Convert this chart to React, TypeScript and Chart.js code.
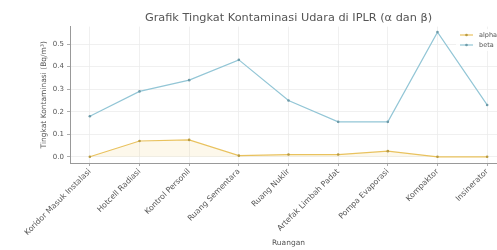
import React, { useEffect, useRef } from "react";
import { Chart, registerables } from "chart.js";

Chart.register(...registerables);

const rooms = [
  "Koridor Masuk Instalasi",
  "Hotcell Radiasi",
  "Kontrol Personil",
  "Ruang Sementara",
  "Ruang Nuklir",
  "Artefak Limbah Padat",
  "Pompa Evaporasi",
  "Kompaktor",
  "Insinerator",
];
const alphaValues = [0.0, 0.07, 0.075, 0.005, 0.01, 0.01, 0.025, 0.0, 0.0];
const betaValues = [0.18, 0.29, 0.34, 0.43, 0.25, 0.155, 0.155, 0.553, 0.23];
const yTicks = [0, 0.1, 0.2, 0.3, 0.4, 0.5];
const seriesNames = ["alpha", "beta"];
const chartTitle = "Grafik Tingkat Kontaminasi Udara di IPLR (α dan β)";

const ALPHA_COLOR = "#e9c25e";
const BETA_COLOR = "#93c6d6";
const FONT = "DejaVu Sans";
const TEXT = "#555";

export default function App() {
  const ref = useRef<HTMLCanvasElement>(null);
  useEffect(() => {
    const canvas = ref.current!;
    const legendPlugin = {
      id: "customLegend",
      afterDraw(chart: any) {
        const ctx = chart.ctx;
        const area = chart.chartArea;
        ctx.save();
        ctx.fillStyle = TEXT;
        ctx.font = `11.3px ${FONT}`;
        ctx.textAlign = "center";
        ctx.textBaseline = "middle";
        ctx.fillText(chartTitle, (area.left + area.right) / 2, 18);
        ctx.textAlign = "left";
        ctx.fillStyle = "rgba(255,255,255,0.85)";
        ctx.fillRect(456, 29, 60, 22);
        const items = [
          { name: seriesNames[0], color: ALPHA_COLOR, dot: "#b89a40" },
          { name: seriesNames[1], color: BETA_COLOR, dot: "#6d9aa8" },
        ];
        items.forEach((it, i) => {
          const y = 35 + i * 10;
          ctx.strokeStyle = it.color;
          ctx.lineWidth = 1.2;
          ctx.beginPath();
          ctx.moveTo(460, y);
          ctx.lineTo(473, y);
          ctx.stroke();
          ctx.fillStyle = it.dot;
          ctx.beginPath();
          ctx.arc(466.5, y, 1.3, 0, Math.PI * 2);
          ctx.fill();
          ctx.fillStyle = TEXT;
          ctx.font = `6.5px ${FONT}`;
          ctx.textBaseline = "middle";
          ctx.fillText(it.name, 479, y);
        });
        ctx.restore();
      },
    };
    const chart = new Chart(canvas, {
      type: "line",
      data: {
        datasets: [
          {
            label: seriesNames[0],
            data: alphaValues.map((v, i) => ({ x: i, y: v })),
            borderColor: ALPHA_COLOR,
            backgroundColor: "rgba(240,200,90,0.12)",
            fill: "origin",
            borderWidth: 1.2,
            pointRadius: 1.3,
            pointBackgroundColor: "#b89a40",
            pointBorderWidth: 0,
          },
          {
            label: seriesNames[1],
            data: betaValues.map((v, i) => ({ x: i, y: v })),
            borderColor: BETA_COLOR,
            fill: false,
            borderWidth: 1.2,
            pointRadius: 1.3,
            pointBackgroundColor: "#6d9aa8",
            pointBorderWidth: 0,
          },
        ],
      },
      options: {
        responsive: false,
        animation: false,
        layout: { padding: { top: 0, right: 0, left: 40, bottom: 2 } },
        plugins: {
          legend: { display: false },
          tooltip: { enabled: false },
          title: {
            display: true,
            text: chartTitle,
            color: "rgba(0,0,0,0)",
            font: { family: FONT, size: 10.5, weight: "normal" },
            padding: { top: 11, bottom: 3 },
          },
        },
        scales: {
          x: {
            type: "linear",
            min: -0.4,
            max: 8.4,
            afterBuildTicks: (s: any) => {
              s.ticks = rooms.map((_, i) => ({ value: i }));
            },
            afterFit: (s: any) => {
              s.height = 85;
            },
            ticks: {
              autoSkip: false,
              minRotation: 45,
              maxRotation: 45,
              color: TEXT,
              padding: 1,
              font: { family: FONT, size: 7.8 },
              callback: (v: any) => rooms[v as number] ?? "",
            },
            grid: { color: "#ececec", lineWidth: 0.8, tickLength: 3, tickColor: "#999" },
            border: { display: true, color: "#999", width: 1 },
            title: {
              display: true,
              text: "Ruangan",
              color: TEXT,
              font: { family: FONT, size: 7.5 },
              padding: { top: 0, bottom: 0 },
            },
          },
          y: {
            min: -0.0275,
            max: 0.5775,
            afterBuildTicks: (s: any) => {
              s.ticks = yTicks.map((v) => ({ value: v }));
            },
            afterFit: (s: any) => {
              s.width = 30;
            },
            ticks: {
              color: TEXT,
              padding: 3,
              font: { family: FONT, size: 7 },
              callback: (v: any) => Number(v).toFixed(1),
            },
            grid: { color: "#ececec", lineWidth: 0.8, tickLength: 3, tickColor: "#999" },
            border: { display: true, color: "#999", width: 1 },
            title: {
              display: true,
              text: "Tingkat Kontaminasi (Bq/m³)",
              color: TEXT,
              font: { family: FONT, size: 7.5 },
              padding: { top: 0, bottom: 0 },
            },
          },
        },
      },
      plugins: [legendPlugin],
    });
    return () => chart.destroy();
  }, []);
  return (
    <div style={{ position: "absolute", left: 0, top: 0, width: 497, height: 250, overflow: "hidden", background: "#fff" }}>
      <canvas ref={ref} width={511} height={250} style={{ display: "block" }} />
    </div>
  );
}
